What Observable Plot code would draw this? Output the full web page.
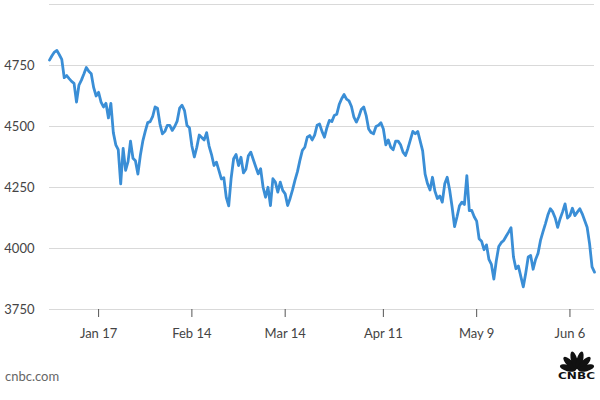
<!DOCTYPE html>
<html><head><meta charset="utf-8">
<script src="https://cdn.jsdelivr.net/npm/d3@7"></script>
<script src="https://cdn.jsdelivr.net/npm/@observablehq/plot@0.6"></script>
<style>
body{margin:0;background:#fff;}
#wrap{position:relative;width:600px;height:400px;overflow:hidden;font-family:Lato,"Open Sans",sans-serif;}
#src{position:absolute;left:5px;top:368px;font-size:13px;color:#666;font-family:Lato,"Open Sans",sans-serif;}
#logo{position:absolute;left:556px;top:350px;}
</style></head><body>
<div id="wrap"><div id="chart"></div><div id="src">cnbc.com</div>
<svg id="logo" width="42" height="32" viewBox="0 0 42 32">
  <g fill="#111" transform="translate(21,20.5)">
    <ellipse cx="0" cy="-9.5" rx="3.2" ry="8.2" transform="rotate(-75)"/>
    <ellipse cx="0" cy="-10" rx="3.2" ry="8.8" transform="rotate(-45)"/>
    <ellipse cx="0" cy="-10.5" rx="3.2" ry="9.2" transform="rotate(-15)"/>
    <ellipse cx="0" cy="-10.5" rx="3.2" ry="9.2" transform="rotate(15)"/>
    <ellipse cx="0" cy="-10" rx="3.2" ry="8.8" transform="rotate(45)"/>
    <ellipse cx="0" cy="-9.5" rx="3.2" ry="8.2" transform="rotate(75)"/>
  </g>
  <text x="2" y="29" textLength="37" lengthAdjust="spacingAndGlyphs" font-family="'DejaVu Sans','Liberation Sans',Arial,sans-serif" font-weight="bold" font-size="9.5" fill="#111">CNBC</text>
</svg>
</div>
<script>
// S&P 500, trading days Jan 3 – Jun 10, 2022
const days = [
"2022-01-03","2022-01-04","2022-01-05","2022-01-06","2022-01-07","2022-01-10","2022-01-11","2022-01-12","2022-01-13","2022-01-14",
"2022-01-18","2022-01-19","2022-01-20","2022-01-21","2022-01-24","2022-01-25","2022-01-26","2022-01-27","2022-01-28","2022-01-31",
"2022-02-01","2022-02-02","2022-02-03","2022-02-04","2022-02-07","2022-02-08","2022-02-09","2022-02-10","2022-02-11","2022-02-14",
"2022-02-15","2022-02-16","2022-02-17","2022-02-18","2022-02-22","2022-02-23","2022-02-24","2022-02-25","2022-02-28",
"2022-03-01","2022-03-02","2022-03-03","2022-03-04","2022-03-07","2022-03-08","2022-03-09","2022-03-10","2022-03-11","2022-03-14",
"2022-03-15","2022-03-16","2022-03-17","2022-03-18","2022-03-21","2022-03-22","2022-03-23","2022-03-24","2022-03-25","2022-03-28",
"2022-03-29","2022-03-30","2022-03-31",
"2022-04-01","2022-04-04","2022-04-05","2022-04-06","2022-04-07","2022-04-08","2022-04-11","2022-04-12","2022-04-13","2022-04-14",
"2022-04-18","2022-04-19","2022-04-20","2022-04-21","2022-04-22","2022-04-25","2022-04-26","2022-04-27","2022-04-28","2022-04-29",
"2022-05-02","2022-05-03","2022-05-04","2022-05-05","2022-05-06","2022-05-09","2022-05-10","2022-05-11","2022-05-12","2022-05-13",
"2022-05-16","2022-05-17","2022-05-18","2022-05-19","2022-05-20","2022-05-23","2022-05-24","2022-05-25","2022-05-26","2022-05-27",
"2022-05-31",
"2022-06-01","2022-06-02","2022-06-03","2022-06-06","2022-06-07","2022-06-08","2022-06-09","2022-06-10"
];
const firstOpen = 4772;
const midday = [
4790,4812,4775,4709,4685,4600,4690,4742,4716,4625,
4600,4595,4595,4425,4265,4320,4440,4360,4381,4480,
4520,4580,4510,4480,4505,4500,4575,4565,4495,4375,
4465,4445,4420,4340,4320,4290,4175,4368,4340,
4310,4380,4365,4306,4251,4251,4286,4231,4238,4176,
4240,4315,4402,4456,4445,4505,4480,4495,4520,4550,
4614,4612,4582,
4518,4570,4545,4475,4500,4515,4425,4415,4440,4425,
4381,4445,4470,4440,4305,4240,4235,4215,4265,4240,
4090,4175,4180,4155,4130,4040,3995,3955,3875,4008,
4033,4067,3965,3928,3843,3965,3915,3980,4068,4137,
4150,
4087,4150,4125,4165,4149,4142,4087,3925
];
const close = [
4805,4794,4700,4696,4677,4670,4715,4726,4659,4640,
4580,4535,4475,4405,4410,4356,4370,4305,4440,4516,
4540,4575,4470,4505,4484,4522,4587,4504,4420,4415,
4455,4475,4385,4354,4285,4210,4289,4385,4374,
4325,4395,4335,4327,4210,4176,4272,4272,4224,4205,
4280,4361,4415,4463,4465,4510,4456,4525,4545,4590,
4631,4605,4538,
4540,4580,4490,4470,4505,4490,4445,4405,4440,4395,
4410,4480,4480,4400,4265,4292,4205,4190,4292,4170,
4130,4190,4299,4156,4112,4030,4015,3935,3950,4024,
4050,4085,3917,3885,3900,3971,3955,4033,4101,4163,
4125,
4122,4183,4135,4135,4163,4115,4019,3903
];
const yTicks = [3750, 4000, 4250, 4500, 4750];
const gridValues = [3750, 4000, 4250, 4500, 4750, 5000];
const tickDates = ["2022-01-17","2022-02-14","2022-03-14","2022-04-11","2022-05-09","2022-06-06"];
const tickLabels = ["Jan 17","Feb 14","Mar 14","Apr 11","May 9","Jun 6"];

// trading-day axis: day i spans [i, i+1]; midday at i+0.5, close at i+1
const points = [{t: 0, v: firstOpen}];
days.forEach((d, i) => {
  points.push({t: i + 0.5, v: midday[i]});
  points.push({t: i + 1, v: close[i]});
});
const tickPos = tickDates.map(td => days.findIndex(d => d >= td));

const chart = Plot.plot({
  width: 600, height: 400,
  marginTop: 4, marginBottom: 91, marginLeft: 49, marginRight: 6,
  style: {fontFamily: "Lato, 'Open Sans', sans-serif", fontSize: "13px", background: "white", overflow: "visible"},
  x: {type: "linear", domain: [0, days.length], axis: null, label: null},
  y: {domain: [3750, 5000], axis: null, label: null},
  marks: [
    Plot.ruleY(gridValues, {stroke: "#d9d9d9", strokeWidth: 1}),
    Plot.axisY(yTicks, {tickSize: 0, tickPadding: 15, fill: "#444", fontSize: 13, label: null, tickFormat: d => String(d)}),
    Plot.axisX(tickPos, {tickSize: 8, tickPadding: 11, stroke: "#555", fill: "#444", fontSize: 13, label: null,
      tickFormat: d => tickLabels[tickPos.indexOf(d)]}),
    Plot.line(points, {x: "t", y: "v", stroke: "#3a8ed6", strokeWidth: 2.8, strokeLinejoin: "round", strokeLinecap: "round"})
  ]
});
document.getElementById("chart").appendChild(chart);
</script>
</body></html>
